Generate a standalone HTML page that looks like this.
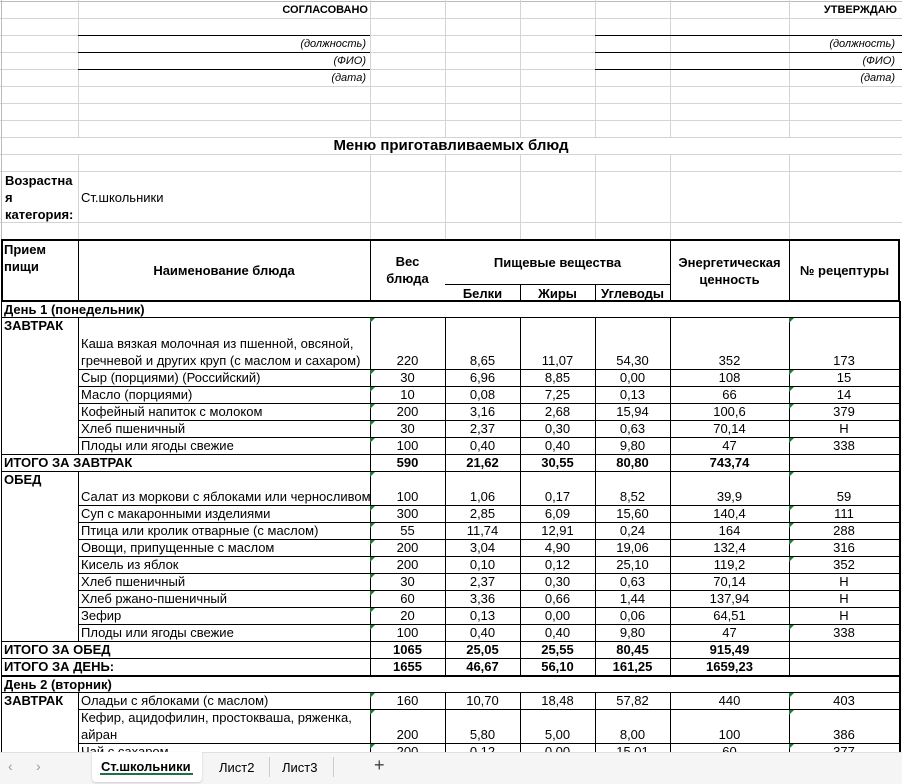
<!DOCTYPE html>
<html><head><meta charset="utf-8"><style>
*{margin:0;padding:0;box-sizing:border-box}
body{width:902px;height:784px;overflow:hidden;background:#fff;position:relative;font-family:"Liberation Sans",Arial,sans-serif;font-size:13px;color:#000}
.abs{position:absolute}
.hl{position:absolute;height:1px;background:#d4d4d4}
.vl{position:absolute;width:1px;background:#d4d4d4}
.r{position:absolute;left:0;width:902px}
.r>div{position:absolute;top:0;height:100%;border-right:1px solid #000;border-bottom:1px solid #000;display:flex;align-items:flex-end;justify-content:center;padding:0 3px 0;white-space:nowrap;line-height:16px}
.r>.b{justify-content:flex-start}
.a{left:1px;width:78px}.b{left:78px;width:293px}.c{left:370px;width:76px}.d{left:445px;width:76px}.e{left:520px;width:76px}.f{left:595px;width:76px}.g{left:670px;width:120px}.h{left:789px;width:111px}
.bd{font-weight:bold}
.t{position:relative}
.t::before{content:"";position:absolute;left:0;top:0;border-top:5px solid #1e7b34;border-right:5px solid transparent}
.it{font-style:italic;font-size:11px;text-align:right}
</style></head><body>
<div class="hl" style="left:0;top:1px;width:902px;background:#bbb"></div>
<div class="hl" style="left:0;top:18px;width:902px"></div>
<div class="hl" style="left:0;top:35px;width:902px"></div>
<div class="hl" style="left:0;top:52px;width:902px"></div>
<div class="hl" style="left:0;top:69px;width:902px"></div>
<div class="hl" style="left:0;top:86px;width:902px"></div>
<div class="hl" style="left:0;top:103px;width:902px"></div>
<div class="hl" style="left:0;top:120px;width:902px"></div>
<div class="hl" style="left:0;top:137px;width:902px"></div>
<div class="hl" style="left:0;top:154px;width:902px"></div>
<div class="hl" style="left:0;top:171px;width:902px"></div>
<div class="hl" style="left:0;top:222px;width:902px"></div>
<div class="vl" style="left:1px;top:0;height:240px;background:#bbb"></div>
<div class="vl" style="left:78px;top:0;height:137px"></div><div class="vl" style="left:78px;top:154px;height:86px"></div>
<div class="vl" style="left:370px;top:0;height:137px"></div><div class="vl" style="left:370px;top:154px;height:86px"></div>
<div class="vl" style="left:445px;top:0;height:137px"></div><div class="vl" style="left:445px;top:154px;height:86px"></div>
<div class="vl" style="left:520px;top:0;height:137px"></div><div class="vl" style="left:520px;top:154px;height:86px"></div>
<div class="vl" style="left:595px;top:0;height:137px"></div><div class="vl" style="left:595px;top:154px;height:86px"></div>
<div class="vl" style="left:670px;top:0;height:137px"></div><div class="vl" style="left:670px;top:154px;height:86px"></div>
<div class="vl" style="left:789px;top:0;height:137px"></div><div class="vl" style="left:789px;top:154px;height:86px"></div>
<div class="abs" style="left:78px;top:35px;width:292px;height:1px;background:#000"></div>
<div class="abs" style="left:78px;top:52px;width:292px;height:1px;background:#000"></div>
<div class="abs" style="left:78px;top:69px;width:292px;height:1px;background:#000"></div>
<div class="abs" style="left:595px;top:35px;width:307px;height:1px;background:#000"></div>
<div class="abs" style="left:595px;top:52px;width:307px;height:1px;background:#000"></div>
<div class="abs" style="left:595px;top:69px;width:307px;height:1px;background:#000"></div>
<div class="abs bd" style="left:200px;width:168px;top:4px;text-align:right;font-size:11px">СОГЛАСОВАНО</div>
<div class="abs bd" style="left:700px;width:197px;top:4px;text-align:right;font-size:11px">УТВЕРЖДАЮ</div>
<div class="abs it" style="left:200px;width:166px;top:38px">(должность)</div>
<div class="abs it" style="left:200px;width:166px;top:55px">(ФИО)</div>
<div class="abs it" style="left:200px;width:166px;top:72px">(дата)</div>
<div class="abs it" style="left:700px;width:195px;top:38px">(должность)</div>
<div class="abs it" style="left:700px;width:195px;top:55px">(ФИО)</div>
<div class="abs it" style="left:700px;width:195px;top:72px">(дата)</div>
<div class="abs bd" style="left:0;width:902px;top:137px;text-align:center;font-size:15px;line-height:18px">Меню приготавливаемых блюд</div>
<div class="abs bd" style="left:5px;top:172px;line-height:17px;width:73px">Возрастна<br>я<br>категория:</div>
<div class="abs" style="left:81px;top:189px;line-height:17px">Ст.школьники</div>
<div class="abs" style="left:1px;top:239px;width:899px;height:63px;border:2px solid #000"></div>
<div class="abs" style="left:78px;top:240px;width:1px;height:62px;background:#000"></div>
<div class="abs" style="left:370px;top:240px;width:1px;height:62px;background:#000"></div>
<div class="abs" style="left:670px;top:240px;width:1px;height:62px;background:#000"></div>
<div class="abs" style="left:789px;top:240px;width:1px;height:62px;background:#000"></div>
<div class="abs" style="left:445px;top:284px;width:225px;height:1px;background:#000"></div>
<div class="abs" style="left:520px;top:284px;width:1px;height:18px;background:#000"></div>
<div class="abs" style="left:595px;top:284px;width:1px;height:18px;background:#000"></div>
<div class="abs bd" style="left:4px;top:241px;line-height:17px">Прием<br>пищи</div>
<div class="abs bd" style="left:78px;width:292px;top:263px;text-align:center">Наименование блюда</div>
<div class="abs bd" style="left:370px;width:75px;top:253px;text-align:center;line-height:17px">Вес<br>блюда</div>
<div class="abs bd" style="left:445px;width:225px;top:255px;text-align:center">Пищевые вещества</div>
<div class="abs bd" style="left:445px;width:75px;top:286px;text-align:center">Белки</div>
<div class="abs bd" style="left:520px;width:75px;top:286px;text-align:center">Жиры</div>
<div class="abs bd" style="left:595px;width:75px;top:286px;text-align:center">Углеводы</div>
<div class="abs bd" style="left:670px;width:119px;top:254px;text-align:center;line-height:17px">Энергетическая<br>ценность</div>
<div class="abs bd" style="left:789px;width:111px;top:263px;text-align:center">№ рецептуры</div>
<div class="abs" style="left:1px;top:301px;width:1px;height:460px;background:#000"></div>
<div class="abs" style="left:899px;top:301px;width:2px;height:460px;background:#000"></div>
<div class="abs bd" style="left:4px;top:302px">День 1 (понедельник)</div>
<div class="abs" style="left:1px;top:317px;width:899px;height:1px;background:#000"></div>
<div class="abs bd" style="left:1px;top:318px;width:78px;height:137px;border-right:1px solid #000;border-bottom:1px solid #000;padding:0 3px">ЗАВТРАК</div>
<div class="abs bd" style="left:1px;top:472px;width:78px;height:170px;border-right:1px solid #000;border-bottom:1px solid #000;padding:0 3px">ОБЕД</div>
<div class="abs bd" style="left:1px;top:693px;width:78px;height:70px;border-right:1px solid #000;padding:0 3px">ЗАВТРАК</div>

<div class="r" style="top:318px;height:52px"><div class="b" style="white-space:normal;line-height:17px">Каша вязкая молочная из пшенной, овсяной, гречневой и других круп (с маслом и сахаром)</div><div class="c t">220</div><div class="d">8,65</div><div class="e">11,07</div><div class="f">54,30</div><div class="g">352</div><div class="h t">173</div></div>
<div class="r" style="top:370px;height:17px"><div class="b">Сыр (порциями) (Российский)</div><div class="c t">30</div><div class="d">6,96</div><div class="e">8,85</div><div class="f">0,00</div><div class="g">108</div><div class="h t">15</div></div>
<div class="r" style="top:387px;height:17px"><div class="b">Масло (порциями)</div><div class="c t">10</div><div class="d">0,08</div><div class="e">7,25</div><div class="f">0,13</div><div class="g">66</div><div class="h t">14</div></div>
<div class="r" style="top:404px;height:17px"><div class="b">Кофейный напиток с молоком</div><div class="c t">200</div><div class="d">3,16</div><div class="e">2,68</div><div class="f">15,94</div><div class="g">100,6</div><div class="h t">379</div></div>
<div class="r" style="top:421px;height:17px"><div class="b">Хлеб пшеничный</div><div class="c t">30</div><div class="d">2,37</div><div class="e">0,30</div><div class="f">0,63</div><div class="g">70,14</div><div class="h">Н</div></div>
<div class="r" style="top:438px;height:17px"><div class="b">Плоды или ягоды свежие</div><div class="c t">100</div><div class="d">0,40</div><div class="e">0,40</div><div class="f">9,80</div><div class="g">47</div><div class="h t">338</div></div>
<div class="r bd" style="top:455px;height:17px"><div class="a" style="width:370px;justify-content:flex-start">ИТОГО ЗА ЗАВТРАК</div><div class="c">590</div><div class="d">21,62</div><div class="e">30,55</div><div class="f">80,80</div><div class="g">743,74</div><div class="h"></div></div>
<div class="r" style="top:472px;height:34px"><div class="b">Салат из моркови с яблоками или черносливом</div><div class="c t">100</div><div class="d">1,06</div><div class="e">0,17</div><div class="f">8,52</div><div class="g">39,9</div><div class="h t">59</div></div>
<div class="r" style="top:506px;height:17px"><div class="b">Суп с макаронными изделиями</div><div class="c t">300</div><div class="d">2,85</div><div class="e">6,09</div><div class="f">15,60</div><div class="g">140,4</div><div class="h t">111</div></div>
<div class="r" style="top:523px;height:17px"><div class="b">Птица или кролик отварные (с маслом)</div><div class="c t">55</div><div class="d">11,74</div><div class="e">12,91</div><div class="f">0,24</div><div class="g">164</div><div class="h t">288</div></div>
<div class="r" style="top:540px;height:17px"><div class="b">Овощи, припущенные с маслом</div><div class="c t">200</div><div class="d">3,04</div><div class="e">4,90</div><div class="f">19,06</div><div class="g">132,4</div><div class="h t">316</div></div>
<div class="r" style="top:557px;height:17px"><div class="b">Кисель из яблок</div><div class="c t">200</div><div class="d">0,10</div><div class="e">0,12</div><div class="f">25,10</div><div class="g">119,2</div><div class="h t">352</div></div>
<div class="r" style="top:574px;height:17px"><div class="b">Хлеб пшеничный</div><div class="c t">30</div><div class="d">2,37</div><div class="e">0,30</div><div class="f">0,63</div><div class="g">70,14</div><div class="h">Н</div></div>
<div class="r" style="top:591px;height:17px"><div class="b">Хлеб ржано-пшеничный</div><div class="c t">60</div><div class="d">3,36</div><div class="e">0,66</div><div class="f">1,44</div><div class="g">137,94</div><div class="h">Н</div></div>
<div class="r" style="top:608px;height:17px"><div class="b">Зефир</div><div class="c t">20</div><div class="d">0,13</div><div class="e">0,00</div><div class="f">0,06</div><div class="g">64,51</div><div class="h">Н</div></div>
<div class="r" style="top:625px;height:17px"><div class="b">Плоды или ягоды свежие</div><div class="c t">100</div><div class="d">0,40</div><div class="e">0,40</div><div class="f">9,80</div><div class="g">47</div><div class="h t">338</div></div>
<div class="r bd" style="top:642px;height:17px"><div class="a" style="width:370px;justify-content:flex-start">ИТОГО ЗА ОБЕД</div><div class="c">1065</div><div class="d">25,05</div><div class="e">25,55</div><div class="f">80,45</div><div class="g">915,49</div><div class="h"></div></div>
<div class="r bd" style="top:659px;height:18px"><div class="a" style="width:370px;justify-content:flex-start;border-bottom-width:2px">ИТОГО ЗА ДЕНЬ:</div><div class="c" style="border-bottom-width:2px">1655</div><div class="d" style="border-bottom-width:2px">46,67</div><div class="e" style="border-bottom-width:2px">56,10</div><div class="f" style="border-bottom-width:2px">161,25</div><div class="g" style="border-bottom-width:2px">1659,23</div><div class="h" style="border-bottom-width:2px"></div></div>
<div class="abs bd" style="left:4px;top:677px">День 2 (вторник)</div>
<div class="abs" style="left:1px;top:692px;width:899px;height:1px;background:#000"></div>
<div class="r" style="top:693px;height:17px"><div class="b">Оладьи с яблоками (с маслом)</div><div class="c t">160</div><div class="d">10,70</div><div class="e">18,48</div><div class="f">57,82</div><div class="g">440</div><div class="h t">403</div></div>
<div class="r" style="top:710px;height:34px"><div class="b" style="white-space:normal;line-height:17px">Кефир, ацидофилин, простокваша, ряженка, айран</div><div class="c t">200</div><div class="d">5,80</div><div class="e">5,00</div><div class="f">8,00</div><div class="g">100</div><div class="h t">386</div></div>
<div class="r" style="top:744px;height:17px"><div class="b">Чай с сахаром</div><div class="c t">200</div><div class="d">0,12</div><div class="e">0,00</div><div class="f">15,01</div><div class="g">60</div><div class="h t">377</div></div>
<div class="abs" style="left:0;top:752px;width:902px;height:32px;background:#f5f5f5;border-top:1px solid #e0e0e0"></div>
<div class="abs" style="left:8px;top:758px;color:#999;font-size:14px">&#8249;</div>
<div class="abs" style="left:36px;top:758px;color:#999;font-size:14px">&#8250;</div>
<div class="abs" style="left:92px;top:752px;width:110px;height:30px;background:#fff;border-radius:0 0 4px 4px;box-shadow:0 1px 2px #ccc"></div>
<div class="abs bd" style="left:101px;top:759px;font-size:13px">Ст.школьники</div>
<div class="abs" style="left:100px;top:773px;width:93px;height:2px;background:#1e7145"></div>
<div class="abs" style="left:219px;top:760px;font-size:13px">Лист2</div>
<div class="abs" style="left:269px;top:757px;width:1px;height:20px;background:#ccc"></div>
<div class="abs" style="left:282px;top:760px;font-size:13px">Лист3</div>
<div class="abs" style="left:333px;top:757px;width:1px;height:20px;background:#ccc"></div>
<div class="abs" style="left:374px;top:755px;font-size:18px;color:#444">+</div>
</body></html>
